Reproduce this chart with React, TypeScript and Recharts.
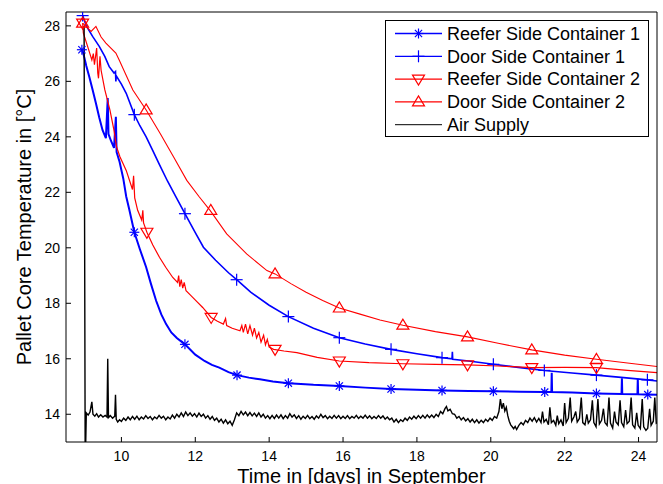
import React from "react";
import { ComposedChart, Line, Scatter, XAxis, YAxis, Legend } from "recharts";

const FONT = "Arial, 'Liberation Sans', Helvetica, sans-serif";

const xTicks = [10, 12, 14, 16, 18, 20, 22, 24];
const yTicks = [14, 16, 18, 20, 22, 24, 26, 28];

type Pt = [number, number];

// [day, temperature]
const reefer1: Pt[] = [
  [8.93, 27.14], [8.97, 27.0], [9.05, 26.55], [9.13, 26.17], [9.22, 25.7], [9.31, 25.21],
  [9.4, 24.7], [9.49, 24.24], [9.58, 23.95], [9.63, 25.4], [9.65, 24.1], [9.72, 23.85],
  [9.8, 23.6], [9.85, 24.72], [9.87, 23.45], [9.95, 23.1], [10.05, 22.5], [10.13, 21.85],
  [10.21, 21.4], [10.35, 20.56], [10.5, 19.95], [10.67, 19.3], [10.8, 18.7], [10.94, 18.09],
  [11.08, 17.6], [11.21, 17.25], [11.35, 16.95], [11.5, 16.75], [11.72, 16.52], [12.0, 16.15],
  [12.25, 15.92], [12.45, 15.78], [12.65, 15.68], [12.9, 15.52], [13.13, 15.41], [13.45, 15.32],
  [13.75, 15.26], [14.1, 15.18], [14.52, 15.12], [15.2, 15.06], [15.9, 15.02], [16.6, 14.96],
  [17.3, 14.91], [18.0, 14.88], [18.68, 14.86], [19.4, 14.84], [20.07, 14.83], [20.8, 14.81],
  [21.46, 14.8], [21.64, 14.8], [21.65, 15.5], [21.66, 14.8], [22.2, 14.78], [22.86, 14.75],
  [23.54, 14.73], [23.55, 15.3], [23.56, 14.73], [23.97, 14.72], [23.98, 15.28], [23.99, 14.72],
  [24.25, 14.71], [24.5, 14.7],
];

const door1: Pt[] = [
  [8.95, 28.37], [9.05, 28.0], [9.22, 27.62], [9.4, 27.26], [9.55, 26.9], [9.67, 26.53],
  [9.8, 26.3], [9.84, 26.35], [9.85, 26.0], [9.86, 26.2], [10.0, 25.9], [10.13, 25.57],
  [10.35, 24.8], [10.5, 24.4], [10.67, 24.0], [10.85, 23.5], [11.03, 23.0], [11.25, 22.4],
  [11.48, 21.83], [11.72, 21.23], [12.0, 20.55], [12.22, 20.02], [12.55, 19.55], [12.9, 19.1],
  [13.12, 18.85], [13.5, 18.4], [14.0, 17.93], [14.52, 17.52], [15.2, 17.1], [15.9, 16.76],
  [16.6, 16.53], [17.3, 16.34], [18.0, 16.18], [18.68, 16.04], [18.95, 16.0], [18.96, 16.25],
  [18.97, 15.98], [19.4, 15.92], [20.07, 15.8], [20.8, 15.68], [21.45, 15.58], [22.2, 15.49],
  [22.86, 15.41], [23.6, 15.32], [24.24, 15.24], [24.5, 15.2],
];

const reefer2: Pt[] = [
  [8.95, 28.1], [8.97, 27.74], [9.1, 27.2], [9.2, 26.77], [9.24, 27.0], [9.27, 26.6],
  [9.33, 27.2], [9.36, 26.3], [9.38, 26.11], [9.42, 26.9], [9.45, 26.4], [9.55, 25.7],
  [9.69, 24.96], [9.79, 24.3], [9.87, 23.64], [9.96, 23.28], [10.13, 22.79], [10.3, 22.1],
  [10.33, 22.6], [10.36, 21.8], [10.44, 21.35], [10.55, 21.0], [10.58, 21.35], [10.6, 20.9],
  [10.69, 20.56], [10.85, 20.1], [11.03, 19.66], [11.2, 19.3], [11.39, 18.93], [11.52, 18.75],
  [11.55, 19.0], [11.58, 18.6], [11.62, 18.85], [11.66, 18.55], [11.7, 18.75], [11.75, 18.45],
  [11.89, 18.27], [12.05, 18.05], [12.2, 17.85], [12.43, 17.49], [12.6, 17.35], [12.76, 17.25],
  [12.82, 17.45], [12.85, 17.2], [13.0, 17.1], [13.21, 17.01], [13.26, 17.2], [13.3, 16.95],
  [13.36, 17.25], [13.42, 16.9], [13.48, 17.2], [13.55, 16.85], [13.6, 17.1], [13.66, 16.75],
  [13.72, 16.95], [13.78, 16.6], [13.85, 16.85], [13.9, 16.5], [13.95, 16.7], [14.0, 16.42],
  [14.12, 16.34], [14.4, 16.28], [14.75, 16.22], [15.3, 16.05], [15.9, 15.92], [16.7, 15.86],
  [17.62, 15.82], [18.5, 15.8], [19.37, 15.78], [20.2, 15.74], [21.11, 15.68], [22.0, 15.69],
  [22.86, 15.68], [23.7, 15.58], [24.5, 15.5],
];

const door2: Pt[] = [
  [8.95, 28.1], [9.18, 27.8], [9.31, 27.98], [9.45, 27.6], [9.58, 27.38], [9.85, 27.02],
  [9.94, 26.77], [10.1, 26.3], [10.31, 25.69], [10.67, 24.97], [11.05, 24.12], [11.41, 23.28],
  [11.77, 22.43], [12.1, 21.85], [12.4, 21.35], [12.85, 20.5], [13.39, 19.78], [13.94, 19.18],
  [14.16, 19.06], [14.6, 18.7], [15.0, 18.4], [15.45, 18.1], [15.9, 17.83], [16.46, 17.61],
  [17.0, 17.4], [17.62, 17.21], [18.5, 16.98], [19.37, 16.79], [20.2, 16.56], [21.11, 16.32],
  [22.0, 16.13], [22.86, 15.98], [23.7, 15.85], [24.5, 15.72],
];

const airSupply: Pt[] = [
  [8.99, 28.0], [9.02, 12.0], [9.05, 14.05], [9.1, 13.97], [9.15, 14.08], [9.2, 14.45], [9.23, 14.0],
  [9.28, 13.93], [9.33, 14.02], [9.38, 13.9], [9.44, 13.98], [9.5, 13.9], [9.56, 13.96], [9.61, 13.9],
  [9.63, 16.0], [9.65, 13.88], [9.7, 13.95], [9.76, 13.86], [9.82, 13.93], [9.84, 14.7], [9.86, 13.82],
  [9.9, 13.72], [9.95, 13.8], [10.0, 13.74], [10.06, 13.86], [10.12, 13.78], [10.18, 13.9], [10.24, 13.8],
  [10.3, 13.92], [10.36, 13.82], [10.42, 13.93], [10.48, 13.8], [10.54, 13.9], [10.6, 13.83], [10.66, 13.95],
  [10.72, 13.85], [10.78, 13.92], [10.84, 13.8], [10.9, 13.9], [10.96, 13.84], [11.02, 13.96], [11.08, 13.86],
  [11.14, 13.93], [11.2, 13.8], [11.26, 13.9], [11.32, 13.83], [11.38, 13.97], [11.44, 13.86], [11.5, 14.0],
  [11.56, 13.9], [11.62, 14.05], [11.68, 13.92], [11.74, 14.08], [11.8, 13.95], [11.86, 14.05], [11.92, 13.93],
  [11.98, 14.02], [12.04, 13.9], [12.1, 14.04], [12.16, 13.92], [12.22, 14.0], [12.28, 13.86], [12.34, 13.95],
  [12.4, 13.82], [12.46, 13.92], [12.52, 13.78], [12.58, 13.86], [12.64, 13.72], [12.7, 13.82], [12.76, 13.68],
  [12.82, 13.8], [12.88, 13.66], [12.94, 13.75], [13.0, 13.6], [13.06, 13.8], [13.12, 14.05], [13.18, 13.95],
  [13.24, 14.1], [13.3, 13.98], [13.36, 14.08], [13.42, 13.95], [13.48, 14.06], [13.54, 13.94], [13.6, 14.04],
  [13.66, 13.92], [13.72, 14.05], [13.78, 13.9], [13.84, 14.0], [13.9, 13.86], [13.96, 13.95], [14.02, 13.84],
  [14.08, 13.96], [14.14, 13.85], [14.2, 13.97], [14.26, 13.86], [14.32, 13.98], [14.38, 13.84], [14.44, 13.95],
  [14.5, 13.86], [14.56, 14.02], [14.62, 13.9], [14.68, 13.98], [14.74, 13.85], [14.8, 13.95], [14.86, 13.82],
  [14.92, 13.93], [14.98, 13.85], [15.04, 13.96], [15.1, 13.84], [15.16, 13.92], [15.22, 13.82], [15.28, 13.94],
  [15.34, 13.86], [15.4, 14.0], [15.46, 13.88], [15.52, 13.95], [15.58, 13.84], [15.64, 13.93], [15.7, 13.85],
  [15.76, 13.96], [15.82, 13.86], [15.88, 13.95], [15.94, 13.84], [16.0, 13.93], [16.06, 13.85], [16.12, 13.95],
  [16.18, 13.84], [16.24, 13.92], [16.3, 13.86], [16.36, 13.96], [16.42, 13.85], [16.48, 13.93], [16.54, 13.86],
  [16.6, 13.97], [16.66, 13.86], [16.72, 13.94], [16.78, 13.84], [16.84, 13.92], [16.9, 13.85], [16.96, 13.95],
  [17.02, 13.86], [17.08, 13.94], [17.14, 13.82], [17.2, 13.9], [17.26, 13.8], [17.32, 13.86], [17.38, 13.72],
  [17.44, 13.82], [17.5, 13.7], [17.56, 13.8], [17.62, 13.74], [17.68, 13.86], [17.74, 13.78], [17.8, 13.9],
  [17.86, 13.82], [17.92, 13.93], [17.98, 13.84], [18.04, 13.95], [18.1, 13.86], [18.16, 13.96], [18.22, 13.86],
  [18.28, 13.98], [18.34, 13.88], [18.4, 13.97], [18.46, 13.88], [18.52, 14.0], [18.58, 13.92], [18.64, 14.1],
  [18.7, 14.02], [18.76, 14.2], [18.8, 14.28], [18.84, 14.12], [18.9, 14.18], [18.96, 14.02], [19.02, 14.0],
  [19.08, 13.86], [19.14, 13.92], [19.2, 13.8], [19.26, 13.88], [19.32, 13.76], [19.38, 13.84], [19.44, 13.72],
  [19.5, 13.82], [19.56, 13.7], [19.62, 13.8], [19.68, 13.68], [19.74, 13.78], [19.8, 13.7], [19.86, 13.82],
  [19.92, 13.74], [19.98, 13.86], [20.04, 13.78], [20.1, 13.92], [20.16, 13.86], [20.22, 14.1], [20.26, 14.55],
  [20.3, 14.2], [20.34, 14.4], [20.38, 14.12], [20.42, 14.25], [20.46, 13.95], [20.5, 13.75], [20.54, 13.62],
  [20.58, 13.55], [20.62, 13.48], [20.66, 13.56], [20.7, 13.45], [20.76, 13.6], [20.82, 13.7], [20.88, 13.62],
  [20.94, 13.78], [21.0, 13.7], [21.06, 13.86], [21.12, 13.75], [21.18, 13.88], [21.24, 13.72], [21.3, 13.85],
  [21.36, 13.7], [21.4, 14.1], [21.44, 13.72], [21.5, 13.82], [21.56, 13.62], [21.6, 14.25], [21.64, 13.7],
  [21.7, 13.78], [21.76, 13.6], [21.8, 13.95], [21.84, 13.66], [21.9, 13.8], [21.96, 13.58], [22.0, 14.4],
  [22.04, 13.7], [22.1, 13.85], [22.15, 14.6], [22.19, 13.75], [22.25, 13.9], [22.3, 14.1], [22.34, 13.72],
  [22.4, 13.85], [22.45, 14.6], [22.49, 13.7], [22.55, 13.62], [22.6, 14.0], [22.64, 13.68], [22.7, 13.8],
  [22.75, 14.5], [22.79, 13.7], [22.85, 13.55], [22.9, 14.55], [22.94, 13.65], [23.0, 13.78], [23.05, 14.2],
  [23.09, 13.7], [23.15, 13.6], [23.2, 14.6], [23.24, 13.68], [23.3, 13.5], [23.35, 14.1], [23.39, 13.72],
  [23.45, 13.62], [23.5, 14.5], [23.54, 13.7], [23.6, 13.55], [23.65, 14.15], [23.69, 13.66], [23.75, 13.75],
  [23.8, 14.6], [23.84, 13.62], [23.9, 13.5], [23.95, 14.05], [23.99, 13.6], [24.05, 13.48], [24.1, 14.55],
  [24.14, 13.55], [24.2, 13.42], [24.25, 13.5], [24.3, 14.2], [24.34, 13.6], [24.4, 13.75], [24.44, 14.6],
  [24.48, 13.68], [24.5, 13.7],
];

// marker positions (MATLAB draws a marker every n-th sample)
const reefer1MarkerDays = [8.93, 10.35, 11.72, 13.13, 14.52, 15.9, 17.3, 18.68, 20.07, 21.46, 22.86, 24.25];
const reefer1MarkerTemps = [27.14, 20.56, 16.52, 15.41, 15.12, 15.02, 14.91, 14.86, 14.83, 14.8, 14.75, 14.71];
const door1MarkerDays = [8.95, 10.35, 11.72, 13.12, 14.52, 15.9, 17.3, 18.68, 20.07, 21.45, 22.86, 24.24];
const door1MarkerTemps = [28.37, 24.8, 21.23, 18.85, 17.52, 16.76, 16.34, 16.04, 15.8, 15.58, 15.41, 15.24];
const reefer2MarkerDays = [8.95, 10.69, 12.43, 14.16, 15.9, 17.62, 19.37, 21.11, 22.86];
const reefer2MarkerTemps = [28.1, 20.56, 17.49, 16.34, 15.92, 15.82, 15.78, 15.68, 15.68];
const door2MarkerDays = [8.95, 10.67, 12.42, 14.16, 15.9, 17.62, 19.37, 21.11, 22.86];
const door2MarkerTemps = [28.1, 24.97, 21.35, 19.06, 17.83, 17.21, 16.79, 16.32, 15.98];

const toRows = (pts: Pt[]) => pts.map(([day, temp]) => ({ day, temp }));
const markerRows = (days: number[], temps: number[]) =>
  days.map((day, i) => ({ day, temp: temps[i] }));

type Kind = "star" | "plus" | "down" | "up" | "none";

const series = [
  { name: "Reefer Side Container 1", color: "#0000ff", width: 2, kind: "star" as Kind, pts: reefer1, markers: markerRows(reefer1MarkerDays, reefer1MarkerTemps) },
  { name: "Door Side Container 1", color: "#0000ff", width: 1.6, kind: "plus" as Kind, pts: door1, markers: markerRows(door1MarkerDays, door1MarkerTemps) },
  { name: "Reefer Side Container 2", color: "#ff0000", width: 1.2, kind: "down" as Kind, pts: reefer2, markers: markerRows(reefer2MarkerDays, reefer2MarkerTemps) },
  { name: "Door Side Container 2", color: "#ff0000", width: 1.1, kind: "up" as Kind, pts: door2, markers: markerRows(door2MarkerDays, door2MarkerTemps) },
  { name: "Air Supply", color: "#000000", width: 1.4, kind: "none" as Kind, pts: airSupply, markers: [] as { day: number; temp: number }[] },
];

function Marker({ kind, cx, cy, color }: { kind: Kind; cx: number; cy: number; color: string }) {
  if (kind === "star") {
    return (
      <g stroke={color} strokeWidth={1.2}>
        <line x1={cx - 5} y1={cy} x2={cx + 5} y2={cy} />
        <line x1={cx} y1={cy - 5} x2={cx} y2={cy + 5} />
        <line x1={cx - 3.6} y1={cy - 3.6} x2={cx + 3.6} y2={cy + 3.6} />
        <line x1={cx - 3.6} y1={cy + 3.6} x2={cx + 3.6} y2={cy - 3.6} />
      </g>
    );
  }
  if (kind === "plus") {
    return (
      <g stroke={color} strokeWidth={1.2}>
        <line x1={cx - 6} y1={cy} x2={cx + 6} y2={cy} />
        <line x1={cx} y1={cy - 6} x2={cx} y2={cy + 6} />
      </g>
    );
  }
  if (kind === "down") {
    return <polygon points={`${cx - 6},${cy - 4} ${cx + 6},${cy - 4} ${cx},${cy + 6}`} fill="none" stroke={color} strokeWidth={1.2} />;
  }
  if (kind === "up") {
    return <polygon points={`${cx - 6},${cy + 4} ${cx + 6},${cy + 4} ${cx},${cy - 6}`} fill="none" stroke={color} strokeWidth={1.2} />;
  }
  return null;
}

function LegendBox() {
  return (
    <div style={{ width: 262, height: 115, border: "1px solid #000", background: "#fff" }}>
      <svg width={262} height={115}>
        {series.map((s, i) => {
          const y = 12.5 + i * 22.8;
          return (
            <g key={s.name}>
              <line x1={9} y1={y} x2={56} y2={y} stroke={s.color} strokeWidth={s.kind === "none" ? 1 : 1.3} />
              <Marker kind={s.kind} cx={32.5} cy={y} color={s.color} />
              <text x={61} y={y} dy="0.35em" fontSize={18} fontFamily={FONT} fill="#000">
                {s.name}
              </text>
            </g>
          );
        })}
      </svg>
    </div>
  );
}

export default function App() {
  const tickStyle = { fontSize: 14, fill: "#000", fontFamily: FONT };
  return (
    <div style={{ position: "absolute", left: 0, top: 0, background: "#fff" }}>
      <ComposedChart
        width={663}
        height={484}
        margin={{ top: 11, right: 5, bottom: 0, left: 0 }}
        style={{ fontFamily: FONT }}
      >
        <XAxis
          type="number"
          dataKey="day"
          domain={[8.5, 24.5]}
          ticks={xTicks}
          allowDataOverflow
          height={42}
          tickSize={-5}
          tickMargin={14.5}
          tick={tickStyle}
          stroke="#000"
          tickLine={{ stroke: "#000" }}
          label={{
            value: "Time in [days] in September",
            position: "insideBottom",
            offset: 1,
            style: { fontSize: 20, fill: "#000", fontFamily: FONT },
          }}
        />
        <XAxis
          xAxisId="top"
          orientation="top"
          type="number"
          domain={[8.5, 24.5]}
          ticks={xTicks}
          height={1}
          tickSize={-5}
          tickFormatter={() => ""}
          stroke="#000"
        />
        <YAxis
          type="number"
          domain={[13, 28.5]}
          ticks={yTicks}
          allowDataOverflow
          width={66}
          tickSize={-5}
          tickMargin={11}
          tick={tickStyle}
          stroke="#000"
          label={{
            value: "Pallet Core Temperature in [°C]",
            angle: -90,
            position: "center",
            dx: -9,
            style: { fontSize: 20, fill: "#000", fontFamily: FONT, textAnchor: "middle" },
          }}
        />
        <YAxis
          yAxisId="right"
          orientation="right"
          type="number"
          domain={[13, 28.5]}
          ticks={yTicks}
          width={1}
          tickSize={-5}
          tickFormatter={() => ""}
          stroke="#000"
        />
        {series.map((s) => (
          <Line
            key={s.name}
            data={toRows(s.pts)}
            dataKey="temp"
            type="linear"
            stroke={s.color}
            strokeWidth={s.width}
            dot={false}
            activeDot={false}
            isAnimationActive={false}
            legendType="none"
          />
        ))}
        {series
          .filter((s) => s.markers.length > 0)
          .map((s) => (
            <Scatter
              key={s.name + "-m"}
              data={s.markers}
              dataKey="temp"
              isAnimationActive={false}
              legendType="none"
              shape={(p: any) => <Marker kind={s.kind} cx={p.cx} cy={p.cy} color={s.color} />}
            />
          ))}
        <Legend
          layout="vertical"
          align="center"
          verticalAlign="middle"
          wrapperStyle={{ left: 385, top: 20, width: 264, height: 117 }}
          content={() => <LegendBox />}
        />
      </ComposedChart>
    </div>
  );
}
